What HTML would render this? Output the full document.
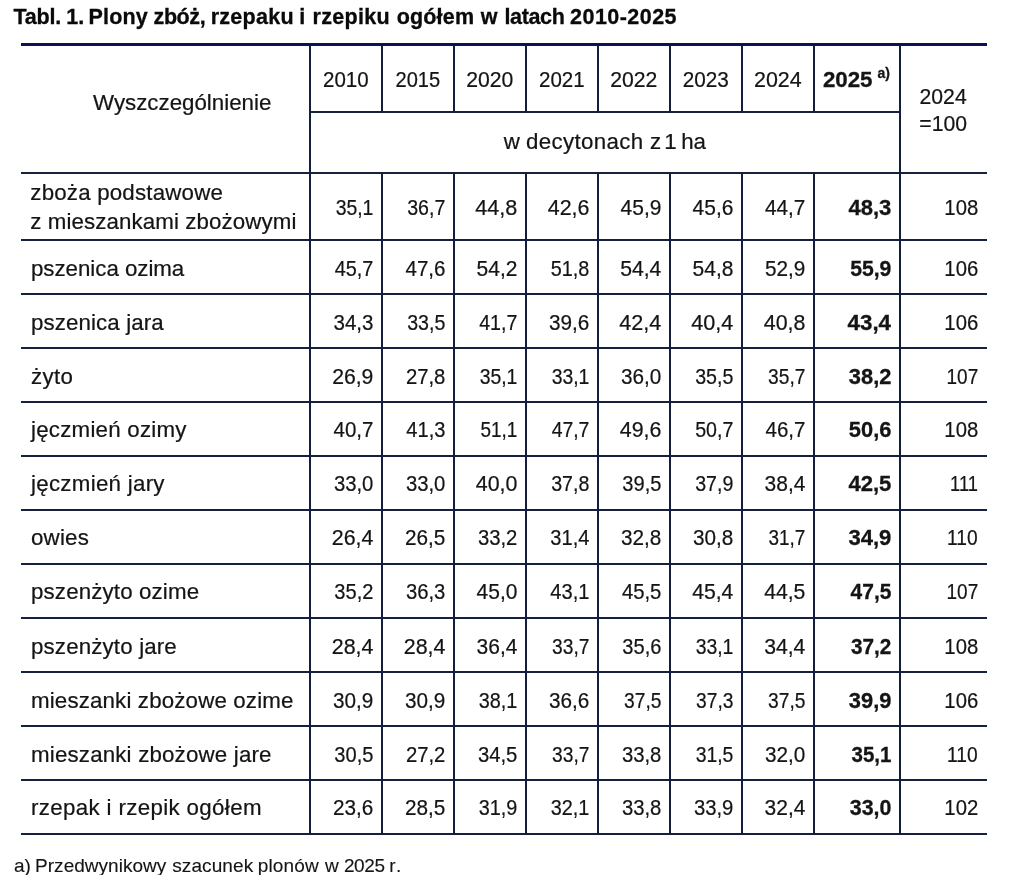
<!DOCTYPE html>
<html lang="pl">
<head>
<meta charset="utf-8">
<title>Tabl. 1. Plony zbóż, rzepaku i rzepiku ogółem w latach 2010-2025</title>
<style>
*{box-sizing:border-box;margin:0;padding:0}
html,body{width:1010px;height:875px;background:#fff;overflow:hidden}
body{position:relative;font-family:"Liberation Sans",sans-serif;color:#141414;-webkit-text-stroke:0.22px #141414}
h1{position:absolute;left:13.5px;top:3px;font-size:21.5px;line-height:28px;font-weight:bold;white-space:nowrap;letter-spacing:0.055px;color:#0a0a0a;-webkit-text-stroke:0.3px #0a0a0a}
table{position:absolute;left:21px;top:43px;width:966px;border-collapse:collapse;table-layout:fixed;font-size:22.3px;line-height:26px}
th,td{font-weight:normal;padding:0;vertical-align:middle;white-space:nowrap}
th>span,td>span{display:inline-block;position:relative}
thead th{text-align:center}
tbody th{text-align:left;padding-left:10px;line-height:28.3px}
tbody th span{top:2px}
tbody th.two span{display:block;top:1px;left:-0.7px}
tbody td{text-align:right;padding-right:9px}
tbody td span{transform-origin:100% 50%;transform:scaleX(0.95);top:2px}
tbody td.b{padding-right:9px}
tbody td.b span{transform:none;top:2px}
tbody td.ix{padding-right:9px}
tr.r1 td span,tr.r1 td.b span{top:1px}
.yr>span{transform:scaleX(0.95);top:2.6px}
.yr.b,tbody td.b{font-weight:bold;-webkit-text-stroke:0.3px #141414}
.yr.b>span{left:-0.6px;transform:none}
sup{font-size:14px;vertical-align:baseline;position:relative;top:-9.6px;margin-left:5px;line-height:0}
.wy>span{left:16.7px;top:-5.5px}
.unit>span{left:-0.2px;top:-0.4px;letter-spacing:-0.12px}
.idx{line-height:27.2px}
.idx>span{left:-0.7px;top:2px;transform:scaleX(0.95)}
.ln{position:absolute;background:#121e3c}
.ln.t{background:#0b1450}
.ln.h{background:#15213f}
p.fn{position:absolute;left:14px;top:853.5px;font-size:19px;line-height:24px;white-space:nowrap;letter-spacing:0.03px;-webkit-text-stroke-width:0.12px}
tr.u1 th span{top:1px}
tr.u1 td span{top:1px}
tr.u1 td.b span{top:1px}
.s82{transform:scaleX(0.82)!important}
.s85{transform:scaleX(0.85)!important}
.s86{transform:scaleX(0.86)!important}
.s87{transform:scaleX(0.87)!important}
.s88{transform:scaleX(0.88)!important}
.s89{transform:scaleX(0.89)!important}
.s90{transform:scaleX(0.9)!important}
.s91{transform:scaleX(0.91)!important}
.s92{transform:scaleX(0.92)!important}
.s93{transform:scaleX(0.93)!important}
.s94{transform:scaleX(0.94)!important}
.s95{transform:scaleX(0.95)!important}
.s96{transform:scaleX(0.96)!important}
.s97{transform:scaleX(0.97)!important}
.s98{transform:scaleX(0.98)!important}
.s99{transform:scaleX(0.99)!important}
</style>
</head>
<body>
<h1><span style="letter-spacing:-0.185px;margin-right:-0.74px">Tabl. </span><span style="letter-spacing:0.055px;margin-right:-1.7px">1. </span><span style="letter-spacing:0.135px;margin-right:-0.42px">Plony </span><span style="letter-spacing:-0.395px;margin-right:-0.22px">zbóż, </span><span style="letter-spacing:0.284px;margin-right:-0.98px">rzepaku </span><span style="letter-spacing:0.055px;margin-right:1.3px">i </span><span style="letter-spacing:0.298px;margin-right:0.49px">rzepiku </span><span style="letter-spacing:0.172px;margin-right:0.49px">ogółem </span><span style="letter-spacing:0.055px;margin-right:0.8px">w </span><span style="letter-spacing:-0.345px">latach </span><span style="letter-spacing:0.455px">2010-2025</span></h1>
<table>
<colgroup><col style="width:289px"><col style="width:72px"><col style="width:72px"><col style="width:72px"><col style="width:72px"><col style="width:72px"><col style="width:72px"><col style="width:72px"><col style="width:86px"><col style="width:87px"></colgroup>
<thead>
<tr style="height:69px">
<th rowspan="2" class="wy"><span>Wyszczególnienie</span></th>
<th class="yr"><span class="s92">2010</span></th>
<th class="yr"><span class="s90">2015</span></th>
<th class="yr"><span>2020</span></th>
<th class="yr"><span class="s92">2021</span></th>
<th class="yr"><span>2022</span></th>
<th class="yr"><span class="s93">2023</span></th>
<th class="yr"><span class="s96">2024</span></th>
<th class="yr b"><span>2025<sup>a)</sup></span></th>
<th rowspan="2" class="idx"><span>2024<br>=100</span></th>
</tr>
<tr style="height:61px"><th colspan="8" class="unit"><span><span style="letter-spacing:-0.12px;margin-right:0.13px">w </span><span style="letter-spacing:0.33px;margin-right:0.14px">decytonach </span><span style="letter-spacing:-0.12px;margin-right:-2.9px">z </span><span style="letter-spacing:-0.12px;margin-right:-1.4px">1 </span><span style="letter-spacing:-0.12px">ha</span></span></th></tr>
</thead>
<tbody>
<tr class="r1" style="height:67px"><th scope="row" class="two"><span style="letter-spacing:0.193px">zboża podstawowe</span><span style="letter-spacing:0.1px">z mieszankami zbożowymi</span></th><td><span class="s87">35,1</span></td><td><span class="s88">36,7</span></td><td><span class="s97">44,8</span></td><td><span class="s96">42,6</span></td><td><span class="s94">45,9</span></td><td><span class="s94">45,6</span></td><td><span class="s93">44,7</span></td><td class="b"><span class="s99">48,3</span></td><td class="ix"><span class="s91">108</span></td></tr>
<tr style="height:54px"><th scope="row"><span style="letter-spacing:-0.031px">pszenica ozima</span></th><td><span class="s89">45,7</span></td><td><span class="s92">47,6</span></td><td><span class="s94">54,2</span></td><td><span class="s89">51,8</span></td><td><span>54,4</span></td><td><span class="s94">54,8</span></td><td><span class="s93">52,9</span></td><td class="b"><span class="s95">55,9</span></td><td class="ix"><span class="s91">106</span></td></tr>
<tr style="height:54px"><th scope="row"><span style="letter-spacing:0.108px">pszenica jara</span></th><td><span class="s92">34,3</span></td><td><span class="s88">33,5</span></td><td><span class="s88">41,7</span></td><td><span class="s93">39,6</span></td><td><span class="s97">42,4</span></td><td><span class="s97">40,4</span></td><td><span class="s96">40,8</span></td><td class="b"><span>43,4</span></td><td class="ix"><span class="s91">106</span></td></tr>
<tr style="height:54px"><th scope="row"><span style="letter-spacing:0.367px">żyto</span></th><td><span>26,9</span></td><td><span class="s91">27,8</span></td><td><span class="s87">35,1</span></td><td><span class="s87">33,1</span></td><td><span class="s93">36,0</span></td><td><span class="s88">35,5</span></td><td><span class="s86">35,7</span></td><td class="b"><span class="s98">38,2</span></td><td class="ix"><span class="s85">107</span></td></tr>
<tr class="u1" style="height:54px"><th scope="row"><span style="letter-spacing:0.238px">jęczmień ozimy</span></th><td><span class="s92">40,7</span></td><td><span class="s90">41,3</span></td><td><span class="s85">51,1</span></td><td><span class="s87">47,7</span></td><td><span class="s96">49,6</span></td><td><span class="s88">50,7</span></td><td><span class="s92">46,7</span></td><td class="b"><span class="s98">50,6</span></td><td class="ix"><span class="s91">108</span></td></tr>
<tr class="u1" style="height:54px"><th scope="row"><span style="letter-spacing:0.283px">jęczmień jary</span></th><td><span class="s91">33,0</span></td><td><span class="s91">33,0</span></td><td><span class="s96">40,0</span></td><td><span class="s88">37,8</span></td><td><span class="s90">39,5</span></td><td><span class="s88">37,9</span></td><td><span class="s94">38,4</span></td><td class="b"><span class="s99">42,5</span></td><td class="ix"><span class="s82">111</span></td></tr>
<tr class="u1" style="height:54px"><th scope="row"><span style="letter-spacing:0.2px">owies</span></th><td><span class="s96">26,4</span></td><td><span class="s93">26,5</span></td><td><span class="s91">33,2</span></td><td><span class="s90">31,4</span></td><td><span class="s93">32,8</span></td><td><span class="s93">30,8</span></td><td><span class="s85">31,7</span></td><td class="b"><span class="s99">34,9</span></td><td class="ix"><span class="s86">110</span></td></tr>
<tr class="u1" style="height:54px"><th scope="row"><span style="letter-spacing:0.143px">pszenżyto ozime</span></th><td><span class="s90">35,2</span></td><td><span class="s91">36,3</span></td><td><span class="s94">45,0</span></td><td><span class="s90">43,1</span></td><td><span class="s91">45,5</span></td><td><span>45,4</span></td><td><span>44,5</span></td><td class="b"><span class="s94">47,5</span></td><td class="ix"><span class="s85">107</span></td></tr>
<tr style="height:54px"><th scope="row"><span style="letter-spacing:0.154px">pszenżyto jare</span></th><td><span class="s96">28,4</span></td><td><span class="s96">28,4</span></td><td><span class="s94">36,4</span></td><td><span class="s86">33,7</span></td><td><span class="s90">35,6</span></td><td><span class="s87">33,1</span></td><td><span>34,4</span></td><td class="b"><span class="s93">37,2</span></td><td class="ix"><span class="s91">108</span></td></tr>
<tr style="height:54px"><th scope="row"><span style="letter-spacing:0.155px">mieszanki zbożowe ozime</span></th><td><span class="s93">30,9</span></td><td><span class="s93">30,9</span></td><td><span class="s89">38,1</span></td><td><span class="s93">36,6</span></td><td><span class="s86">37,5</span></td><td><span class="s86">37,3</span></td><td><span class="s86">37,5</span></td><td class="b"><span class="s98">39,9</span></td><td class="ix"><span class="s91">106</span></td></tr>
<tr style="height:54px"><th scope="row"><span style="letter-spacing:0.181px">mieszanki zbożowe jare</span></th><td><span class="s90">30,5</span></td><td><span class="s91">27,2</span></td><td><span class="s91">34,5</span></td><td><span class="s86">33,7</span></td><td><span class="s91">33,8</span></td><td><span class="s87">31,5</span></td><td><span class="s93">32,0</span></td><td class="b"><span class="s92">35,1</span></td><td class="ix"><span class="s86">110</span></td></tr>
<tr class="u1" style="height:54px"><th scope="row"><span style="letter-spacing:0.352px">rzepak i rzepik ogółem</span></th><td><span class="s93">23,6</span></td><td><span class="s93">28,5</span></td><td><span class="s89">31,9</span></td><td><span class="s89">32,1</span></td><td><span class="s91">33,8</span></td><td><span class="s91">33,9</span></td><td><span class="s94">32,4</span></td><td class="b"><span class="s96">33,0</span></td><td class="ix"><span class="s91">102</span></td></tr>
</tbody>
</table>
<div class="grid" aria-hidden="true">
<div class="ln t" style="left:21px;top:43px;width:966px;height:3px"></div>
<div class="ln h" style="left:310px;top:111px;width:590px;height:2px"></div>
<div class="ln h" style="left:21px;top:172px;width:966px;height:2px"></div>
<div class="ln h" style="left:21px;top:239px;width:966px;height:2px"></div>
<div class="ln h" style="left:21px;top:293px;width:966px;height:2px"></div>
<div class="ln h" style="left:21px;top:347px;width:966px;height:2px"></div>
<div class="ln h" style="left:21px;top:401px;width:966px;height:2px"></div>
<div class="ln h" style="left:21px;top:455px;width:966px;height:2px"></div>
<div class="ln h" style="left:21px;top:509px;width:966px;height:2px"></div>
<div class="ln h" style="left:21px;top:563px;width:966px;height:2px"></div>
<div class="ln h" style="left:21px;top:617px;width:966px;height:2px"></div>
<div class="ln h" style="left:21px;top:671px;width:966px;height:2px"></div>
<div class="ln h" style="left:21px;top:725px;width:966px;height:2px"></div>
<div class="ln h" style="left:21px;top:779px;width:966px;height:2px"></div>
<div class="ln h" style="left:21px;top:833px;width:966px;height:2px"></div>
<div class="ln" style="left:309px;top:46px;width:2px;height:789px"></div>
<div class="ln" style="left:899px;top:46px;width:2px;height:789px"></div>
<div class="ln" style="left:381px;top:46px;width:2px;height:66px"></div>
<div class="ln" style="left:381px;top:173px;width:2px;height:662px"></div>
<div class="ln" style="left:453px;top:46px;width:2px;height:66px"></div>
<div class="ln" style="left:453px;top:173px;width:2px;height:662px"></div>
<div class="ln" style="left:525px;top:46px;width:2px;height:66px"></div>
<div class="ln" style="left:525px;top:173px;width:2px;height:662px"></div>
<div class="ln" style="left:597px;top:46px;width:2px;height:66px"></div>
<div class="ln" style="left:597px;top:173px;width:2px;height:662px"></div>
<div class="ln" style="left:669px;top:46px;width:2px;height:66px"></div>
<div class="ln" style="left:669px;top:173px;width:2px;height:662px"></div>
<div class="ln" style="left:741px;top:46px;width:2px;height:66px"></div>
<div class="ln" style="left:741px;top:173px;width:2px;height:662px"></div>
<div class="ln" style="left:813px;top:46px;width:2px;height:66px"></div>
<div class="ln" style="left:813px;top:173px;width:2px;height:662px"></div>
</div>
<p class="fn"><span style="letter-spacing:0.03px;margin-right:-1.2px">a) </span><span style="letter-spacing:0.022px;margin-right:0.63px">Przedwynikowy </span><span style="letter-spacing:0.092px;margin-right:-0.9px">szacunek </span><span style="letter-spacing:0.18px;margin-right:0.63px">plonów </span><span style="letter-spacing:0.03px;margin-right:-0.21px">w </span><span style="letter-spacing:-0.42px;margin-right:-0.2px">2025 </span><span style="letter-spacing:1.5px">r.</span></p>
</body>
</html>
